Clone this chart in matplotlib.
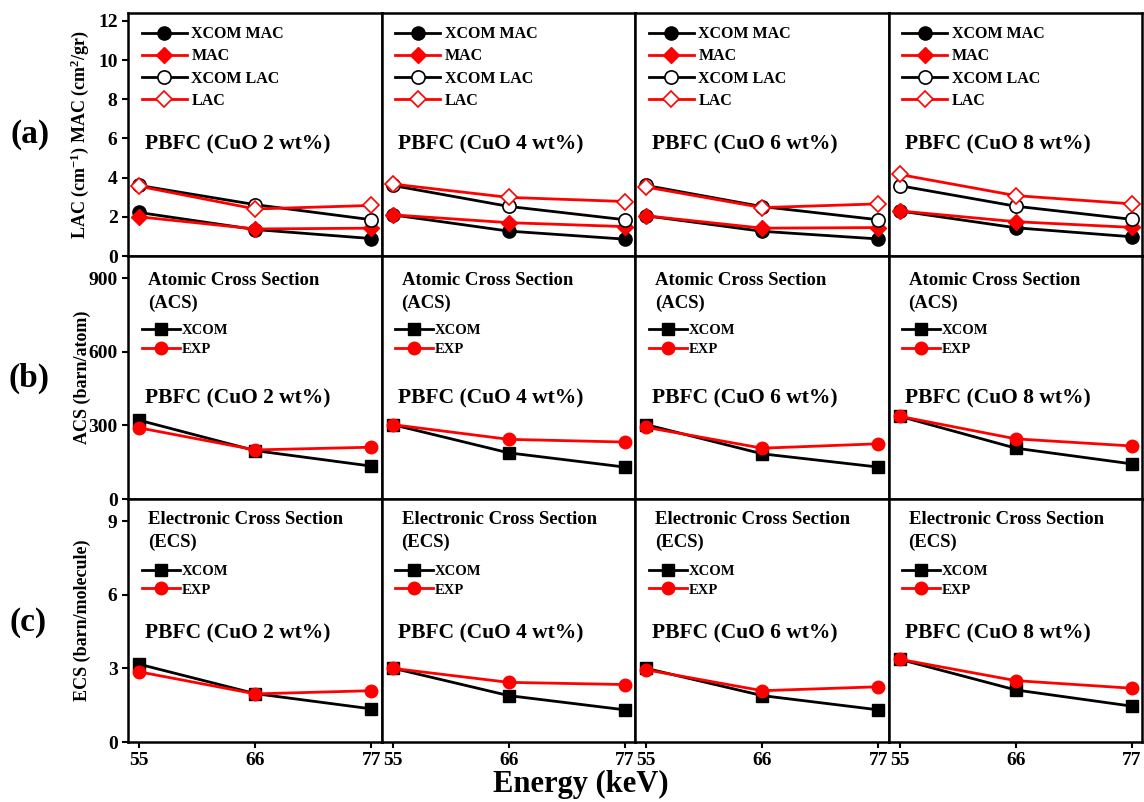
import numpy as np
import matplotlib
matplotlib.use("Agg")
import matplotlib.pyplot as plt

plt.rcParams['font.family'] = ['Liberation Serif', 'DejaVu Serif']
plt.rcParams['font.weight'] = 'bold'
plt.rcParams['axes.labelweight'] = 'bold'
plt.rcParams['mathtext.fontset'] = 'custom'
plt.rcParams['mathtext.rm'] = 'Liberation Serif:bold'
plt.rcParams['mathtext.default'] = 'rm'

# data
energy = [55, 66, 77]
samples = ['PBFC (CuO 2 wt%)', 'PBFC (CuO 4 wt%)', 'PBFC (CuO 6 wt%)', 'PBFC (CuO 8 wt%)']

xcom_mac = [[2.22, 1.35, 0.89], [2.10, 1.27, 0.86], [2.05, 1.26, 0.87], [2.30, 1.44, 0.98]]
exp_mac = [[2.00, 1.38, 1.42], [2.10, 1.70, 1.50], [2.05, 1.42, 1.45], [2.30, 1.75, 1.46]]
xcom_lac = [[3.60, 2.62, 1.85], [3.60, 2.53, 1.85], [3.60, 2.52, 1.85], [3.59, 2.54, 1.87]]
exp_lac = [[3.56, 2.40, 2.58], [3.67, 2.99, 2.78], [3.52, 2.47, 2.66], [4.16, 3.08, 2.66]]

xcom_acs = [[321, 197, 134], [303, 188, 130], [303, 184, 130], [337, 207, 143]]
exp_acs = [[290, 200, 211], [303, 243, 232], [292, 207, 225], [337, 245, 216]]

xcom_ecs = [[3.17, 1.97, 1.35], [3.01, 1.89, 1.31], [3.00, 1.89, 1.31], [3.37, 2.12, 1.46]]
exp_ecs = [[2.86, 1.96, 2.09], [3.00, 2.43, 2.34], [2.94, 2.09, 2.25], [3.37, 2.50, 2.19]]

fig = plt.figure(figsize=(11.44, 8.02), dpi=100)
gs = fig.add_gridspec(3, 4, left=128/1144, right=1142/1144, top=1-13/802, bottom=1-742/802,
                      wspace=0, hspace=0)

lw = 2.0
for c in range(4):
    axes = [fig.add_subplot(gs[r, c]) for r in range(3)]

    # (a) MAC / LAC
    ax = axes[0]
    ax.plot(energy, xcom_mac[c], color='black', lw=lw, marker='o', ms=9.5, mfc='black', mec='black', label='XCOM MAC')
    ax.plot(energy, exp_mac[c], color='red', lw=lw, marker='D', ms=8.5, mfc='red', mec='red', label='MAC')
    ax.plot(energy, xcom_lac[c], color='black', lw=lw, marker='o', ms=9.5, mfc='white', mec='black', mew=1.2, label='XCOM LAC')
    ax.plot(energy, exp_lac[c], color='red', lw=lw, marker='D', ms=8.5, mfc='white', mec='red', mew=1.2, label='LAC')
    ax.set_ylim(0, 12.4)
    ax.set_yticks([0, 2, 4, 6, 8, 10, 12])
    ax.legend(loc='upper left', bbox_to_anchor=(0.055, 0.945), frameon=False, fontsize=11.5,
              handlelength=2.8, handletextpad=0.3, labelspacing=0.38, borderpad=0, borderaxespad=0)
    ax.text(0.067, 0.46, samples[c], transform=ax.transAxes, fontsize=15.5, va='center', ha='left')

    # (b) ACS
    ax = axes[1]
    ax.plot(energy, xcom_acs[c], color='black', lw=lw, marker='s', ms=8, label='XCOM')
    ax.plot(energy, exp_acs[c], color='red', lw=lw, marker='o', ms=9, label='EXP')
    ax.set_ylim(0, 990)
    ax.set_yticks([0, 300, 600, 900])
    ax.legend(loc='upper left', bbox_to_anchor=(0.055, 0.72), frameon=False, fontsize=10.5,
              handlelength=2.6, handletextpad=0.1, labelspacing=0.38, borderpad=0, borderaxespad=0)
    ax.text(0.079, 0.90, 'Atomic Cross Section', transform=ax.transAxes, fontsize=13.5, va='center')
    ax.text(0.079, 0.805, '(ACS)', transform=ax.transAxes, fontsize=13.5, va='center')
    ax.text(0.067, 0.413, samples[c], transform=ax.transAxes, fontsize=15.5, va='center', ha='left')

    # (c) ECS
    ax = axes[2]
    ax.plot(energy, xcom_ecs[c], color='black', lw=lw, marker='s', ms=8, label='XCOM')
    ax.plot(energy, exp_ecs[c], color='red', lw=lw, marker='o', ms=9, label='EXP')
    ax.set_ylim(0, 9.9)
    ax.set_yticks([0, 3, 6, 9])
    ax.legend(loc='upper left', bbox_to_anchor=(0.055, 0.73), frameon=False, fontsize=10.5,
              handlelength=2.6, handletextpad=0.1, labelspacing=0.38, borderpad=0, borderaxespad=0)
    ax.text(0.079, 0.914, 'Electronic Cross Section', transform=ax.transAxes, fontsize=13.5, va='center')
    ax.text(0.079, 0.82, '(ECS)', transform=ax.transAxes, fontsize=13.5, va='center')
    ax.text(0.067, 0.445, samples[c], transform=ax.transAxes, fontsize=15.5, va='center', ha='left')

    for r, ax in enumerate(axes):
        ax.set_xlim(53.95, 77.95)
        ax.set_xticks(energy)
        for s in ax.spines.values():
            s.set_linewidth(1.8)
        ax.tick_params(direction='out', width=1.5, length=4, labelsize=14)
        if r < 2:
            ax.tick_params(axis='x', bottom=False, labelbottom=False)
        if c > 0:
            ax.tick_params(axis='y', left=False, labelleft=False)

    if c == 0:
        axes[0].set_ylabel('LAC (cm$^{\\mathregular{-1}}$) MAC (cm$^{\\mathregular{2}}$/gr)', fontsize=13)
        axes[1].set_ylabel('ACS (barn/atom)', fontsize=13)
        axes[2].set_ylabel('ECS (barn/molecule)', fontsize=13)
        for ax in axes:
            ax.yaxis.set_label_coords(-0.145, 0.5)

fig.text(30/1144, 1-135/802, '(a)', fontsize=24, ha='center', va='center')
fig.text(29/1144, 1-378/802, '(b)', fontsize=24, ha='center', va='center')
fig.text(28/1144, 1-622/802, '(c)', fontsize=24, ha='center', va='center')
fig.text(581/1144, 1-784/802, 'Energy (keV)', fontsize=22, ha='center', va='center')

fig.savefig('out.png', dpi=100)
